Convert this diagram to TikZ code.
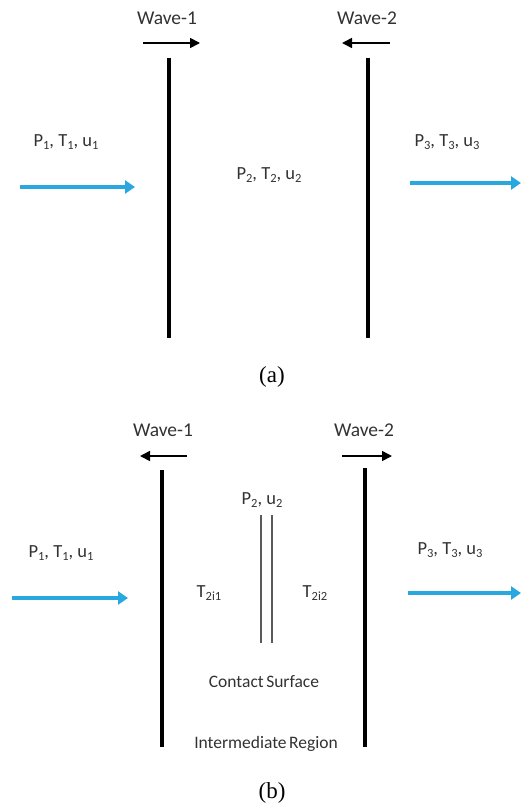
\documentclass[tikz,border=0pt]{standalone}
\usepackage{fontspec}
\setmainfont{Carlito}
\newfontfamily\capfont{Liberation Serif}
\usetikzlibrary{arrows.meta}
\definecolor{txt}{RGB}{50,50,50}
\definecolor{flow}{RGB}{41,168,224}
\definecolor{cs}{RGB}{90,90,90}
\newcommand{\lsub}[1]{\raisebox{-0.35ex}{\fontsize{12.5}{13}\selectfont #1}}
\newcommand{\tightsp}{\hspace{2.5pt}}
\tikzset{
  lbl/.style={inner sep=0pt, text=txt, font=\fontsize{18.5}{22}\selectfont},
  wavelbl/.style={lbl, font=\fontsize{19.5}{22}\selectfont},
  longlbl/.style={lbl, font=\fontsize{17.5}{22}\selectfont},
  captext/.style={inner sep=0pt, text=black, font=\capfont\fontsize{23}{26}\selectfont},
  wave/.style={line width=4pt, black},
  wavedir/.style={line width=1.6pt, black, -{Triangle[length=10pt,width=10pt]}},
  flowarrow/.style={line width=4pt, flow, -{Triangle[length=10pt,width=13pt]}},
  contact/.style={line width=1.3pt, cs}
}
\begin{document}
\begin{tikzpicture}[x=1pt,y=-1pt]
\useasboundingbox (0,0) rectangle (521,803);
% ---------- panel (a) ----------
\node[wavelbl] (aw1) at (167,18) {Wave-1};
\node[wavelbl] (aw2) at (367,18) {Wave-2};
\coordinate (aw1s) at (143,43); \coordinate (aw1e) at (200,43);
\coordinate (aw2s) at (390,43); \coordinate (aw2e) at (342,43);
\draw[wavedir] (aw1s) -- (aw1e);
\draw[wavedir] (aw2s) -- (aw2e);
\coordinate (al1t) at (169,58); \coordinate (al1b) at (169,338);
\coordinate (al2t) at (368,58); \coordinate (al2b) at (368,338);
\draw[wave] (al1t) -- (al1b);
\draw[wave] (al2t) -- (al2b);
\node[lbl] (ap1) at (66,142) {P\lsub{1}, T\lsub{1}, u\lsub{1}};
\node[lbl] (ap2) at (269,175) {P\lsub{2}, T\lsub{2}, u\lsub{2}};
\node[lbl] (ap3) at (447,142) {P\lsub{3}, T\lsub{3}, u\lsub{3}};
\coordinate (af1s) at (20,187); \coordinate (af1e) at (135,187);
\coordinate (af3s) at (410,183); \coordinate (af3e) at (521,183);
\draw[flowarrow] (af1s) -- (af1e);
\draw[flowarrow] (af3s) -- (af3e);
\node[captext] (capa) at (272,377) {(a)};
% ---------- panel (b) ----------
\node[wavelbl] (bw1) at (163,430) {Wave-1};
\node[wavelbl] (bw2) at (364,430) {Wave-2};
\coordinate (bw1s) at (187,456); \coordinate (bw1e) at (140,456);
\coordinate (bw2s) at (342,456); \coordinate (bw2e) at (392,456);
\draw[wavedir] (bw1s) -- (bw1e);
\draw[wavedir] (bw2s) -- (bw2e);
\coordinate (bl1t) at (162,470); \coordinate (bl1b) at (162,747);
\coordinate (bl2t) at (365,468); \coordinate (bl2b) at (365,747);
\draw[wave] (bl1t) -- (bl1b);
\draw[wave] (bl2t) -- (bl2b);
\node[lbl] (bp2) at (262,500) {P\lsub{2}, u\lsub{2}};
\coordinate (c1t) at (261,515); \coordinate (c1b) at (261,643);
\coordinate (c2t) at (272,515); \coordinate (c2b) at (272,643);
\draw[contact] (c1t) -- (c1b);
\draw[contact] (c2t) -- (c2b);
\node[lbl] (bt1) at (209,593) {T\lsub{2i1}};
\node[lbl] (bt2) at (315,593) {T\lsub{2i2}};
\node[lbl] (bp1) at (61,553) {P\lsub{1}, T\lsub{1}, u\lsub{1}};
\node[lbl] (bp3) at (450,550) {P\lsub{3}, T\lsub{3}, u\lsub{3}};
\coordinate (bf1s) at (12,598); \coordinate (bf1e) at (128,598);
\coordinate (bf3s) at (408,593); \coordinate (bf3e) at (521,593);
\draw[flowarrow] (bf1s) -- (bf1e);
\draw[flowarrow] (bf3s) -- (bf3e);
\node[longlbl] (bcs) at (264,682) {Contact\tightsp Surface};
\node[longlbl] (bir) at (266,744) {Intermediate\tightsp Region};
\node[captext] (capb) at (272,793) {(b)};
\end{tikzpicture}
\end{document}
